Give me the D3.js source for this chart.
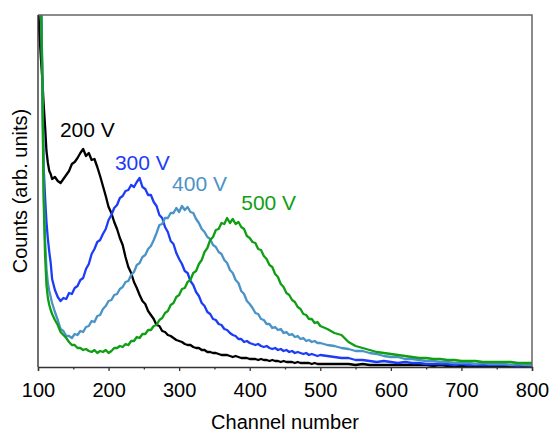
<!DOCTYPE html>
<html>
<head>
<meta charset="utf-8">
<script src="https://cdn.jsdelivr.net/npm/d3@7"></script>
<style>
  body { margin: 0; background: #fff; }
  svg text { font-family: Helvetica, Arial, "Liberation Sans", sans-serif; }
</style>
</head>
<body>
<div id="chart"></div>
<script>
// channel numbers shared by all spectra
const channels = [
  100, 102, 104, 106, 108, 110, 112, 114, 116, 118, 120,
  124, 128, 132, 136, 140, 144, 148, 152, 156, 160, 164, 168, 172, 176, 180, 184, 188, 192, 196, 200,
  204, 208, 212, 216, 220, 224, 228, 232, 236, 240, 244, 248, 252, 256, 260, 264, 268, 272, 276, 280, 284, 288, 292, 296, 300,
  304, 308, 312, 316, 320, 324, 328, 332, 336, 340, 344, 348, 352, 356, 360, 364, 368, 372, 376, 380, 384, 388, 392, 396, 400,
  404, 408, 412, 416, 420, 424, 428, 432, 436, 440, 444, 448, 452, 456, 460, 464, 468, 472, 476, 480, 484, 488, 492, 496, 500,
  510, 520, 530, 540, 550, 560, 570, 580, 590, 600, 610, 620, 630, 640, 650, 660, 670, 680, 690, 700, 710, 720, 730, 740, 750, 760, 770, 780, 790, 800
];

const counts200 = [
  360, 334, 310, 289, 263, 241, 216, 204, 196, 193, 188,
  190, 186, 184, 188, 192, 196, 203, 205, 209, 214, 218, 211, 214, 207, 208, 200, 191, 181, 171, 160,
  154, 145, 138, 129, 122, 110, 100, 94, 85, 79, 72, 66, 63, 56, 52, 48, 42, 41, 36, 35, 32, 31, 29, 27, 26,
  25, 23, 22, 22, 20, 19, 19, 17, 17, 15, 15, 14, 14, 13, 12, 12, 12, 11, 10, 11, 10, 9, 9, 9, 8,
  8, 8, 7, 8, 7, 7, 6, 7, 6, 6, 5, 6, 5, 5, 5, 4, 5, 4, 4, 4, 4, 3, 4, 3, 3,
  3, 3, 3, 3, 2, 3, 2, 2, 2, 2, 2, 2, 2, 2, 2, 1, 2, 1, 1, 1, 1, 1, 1, 1, 1, 1, 1, 1, 1, 1
];

const counts300 = [
  430, 410, 380, 300, 200, 170, 145, 128, 115, 104, 88,
  77, 70, 66, 69, 68, 74, 73, 79, 81, 87, 89, 98, 103, 113, 118, 125, 127, 133, 138, 147,
  152, 159, 162, 169, 171, 176, 177, 182, 180, 185, 189, 180, 178, 172, 172, 165, 161, 152, 149, 140, 135, 126, 123, 114, 108,
  103, 96, 94, 86, 82, 75, 71, 64, 61, 55, 53, 48, 47, 43, 42, 38, 37, 34, 32, 31, 28, 28, 25, 26, 24,
  23, 22, 23, 21, 20, 21, 19, 18, 19, 17, 18, 16, 17, 15, 16, 14, 15, 14, 13, 14, 12, 13, 12, 11, 12,
  11, 10, 9, 9, 7, 7, 6, 5, 6, 5, 4, 5, 4, 4, 3, 3, 3, 3, 2, 3, 2, 2, 2, 2, 2, 2, 2, 1, 2, 1
];

const counts400 = [
  430, 405, 375, 295, 180, 128, 98, 84, 76, 70, 64,
  55, 47, 38, 36, 31, 31, 29, 33, 32, 36, 35, 40, 41, 46, 45, 51, 52, 58, 61, 66,
  67, 72, 73, 78, 80, 85, 86, 92, 95, 102, 104, 110, 112, 118, 121, 127, 134, 142, 143, 149, 149, 154, 154, 159, 155,
  161, 157, 160, 155, 154, 148, 144, 138, 135, 130, 128, 122, 120, 115, 113, 107, 104, 97, 94, 87, 84, 76, 73, 66, 63,
  59, 54, 53, 48, 47, 43, 43, 39, 40, 37, 38, 34, 35, 32, 33, 30, 31, 28, 29, 26, 27, 25, 26, 24, 24,
  22, 21, 19, 18, 16, 16, 14, 13, 11, 10, 10, 8, 8, 7, 6, 6, 5, 5, 4, 4, 4, 3, 4, 3, 3, 3, 2, 3, 2, 2
];

const counts500 = [
  440, 420, 380, 287, 167, 112, 82, 69, 62, 57, 53,
  47, 42, 35, 32, 29, 25, 22, 22, 19, 19, 17, 18, 16, 15, 17, 14, 16, 15, 17, 14,
  16, 19, 19, 21, 20, 23, 22, 26, 26, 30, 29, 33, 33, 37, 37, 41, 42, 47, 49, 54, 56, 62, 64, 70, 72,
  78, 79, 85, 87, 94, 96, 103, 107, 115, 119, 127, 130, 137, 138, 144, 143, 149, 144, 148, 143, 145, 140, 138, 131, 129,
  125, 124, 118, 117, 111, 108, 102, 100, 93, 90, 83, 80, 74, 72, 67, 65, 60, 58, 53, 52, 48, 48, 44, 45, 41,
  38, 34, 32, 25, 21, 19, 17, 15, 14, 13, 12, 11, 10, 9, 9, 8, 8, 7, 7, 6, 6, 6, 5, 5, 5, 5, 5, 4, 4, 4
];

const seriesNames = ["200 V", "300 V", "400 V", "500 V"];
const seriesColors = ["#000000", "#1c3cf6", "#4a93c6", "#0f9e14"];
const seriesCounts = [counts200, counts300, counts400, counts500];
// where each voltage label sits (channel, counts)
const labelChannels = [131, 209, 290, 388];
const labelCounts = [230, 197, 176, 157];

const xTicks = [100, 200, 300, 400, 500, 600, 700, 800];
const xMinorTicks = [150, 250, 350, 450, 550, 650, 750];

const width = 551, height = 432;
const margin = { top: 15, right: 19, bottom: 65, left: 38 };

const svg = d3.select("#chart").append("svg")
  .attr("width", width)
  .attr("height", height);

const x = d3.scaleLinear()
  .domain([100, 800])
  .range([margin.left, width - margin.right]);

const y = d3.scaleLinear()
  .domain([0, 352])
  .range([height - margin.bottom, margin.top]);

svg.append("clipPath").attr("id", "plot")
  .append("rect")
  .attr("x", margin.left)
  .attr("y", margin.top)
  .attr("width", width - margin.left - margin.right)
  .attr("height", height - margin.top - margin.bottom);

const line = d3.line()
  .x(d => x(d[0]))
  .y(d => y(d[1]));

const curves = svg.append("g").attr("clip-path", "url(#plot)");
seriesCounts.forEach((vals, i) => {
  curves.append("path")
    .datum(channels.map((c, j) => [c, vals[j]]))
    .attr("fill", "none")
    .attr("stroke", seriesColors[i])
    .attr("stroke-width", 2.3)
    .attr("stroke-linejoin", "round")
    .attr("d", line);
});

// frame: top and right in grey
svg.append("path")
  .attr("d", `M${x(100)},${y(352)}H${x(800)}V${y(0)}`)
  .attr("fill", "none")
  .attr("stroke", "#666")
  .attr("stroke-width", 1.5);

// left axis line (no ticks)
svg.append("line")
  .attr("x1", x(100)).attr("x2", x(100))
  .attr("y1", y(0)).attr("y2", y(352))
  .attr("stroke", "#333")
  .attr("stroke-width", 1.4);

// bottom axis
const xAxis = svg.append("g")
  .attr("transform", `translate(0, ${y(0)})`)
  .call(d3.axisBottom(x).tickValues(xTicks).tickSize(4).tickPadding(12).tickFormat(d3.format("d")));
xAxis.select(".domain").attr("stroke", "#333").attr("stroke-width", 1.4);
xAxis.selectAll(".tick line").attr("stroke", "#333").attr("stroke-width", 1.3);
xAxis.selectAll(".tick text")
  .attr("fill", "#000")
  .style("font-size", "20px");

const xMinor = svg.append("g")
  .attr("transform", `translate(0, ${y(0)})`)
  .call(d3.axisBottom(x).tickValues(xMinorTicks).tickSize(2.5).tickFormat(""));
xMinor.select(".domain").remove();
xMinor.selectAll(".tick line").attr("stroke", "#333").attr("stroke-width", 1.3);

// axis titles
svg.append("text")
  .attr("x", (x(100) + x(800)) / 2)
  .attr("y", 429)
  .attr("text-anchor", "middle")
  .style("font-size", "20px")
  .text("Channel number");

svg.append("text")
  .attr("transform", "rotate(-90)")
  .attr("x", -(y(0) + y(352)) / 2)
  .attr("y", 27)
  .attr("text-anchor", "middle")
  .style("font-size", "20px")
  .text("Counts (arb. units)");

// voltage labels
seriesNames.forEach((name, i) => {
  svg.append("text")
    .attr("x", x(labelChannels[i]))
    .attr("y", y(labelCounts[i]))
    .attr("fill", seriesColors[i])
    .style("font-size", "21px")
    .text(name);
});
</script>
</body>
</html>
